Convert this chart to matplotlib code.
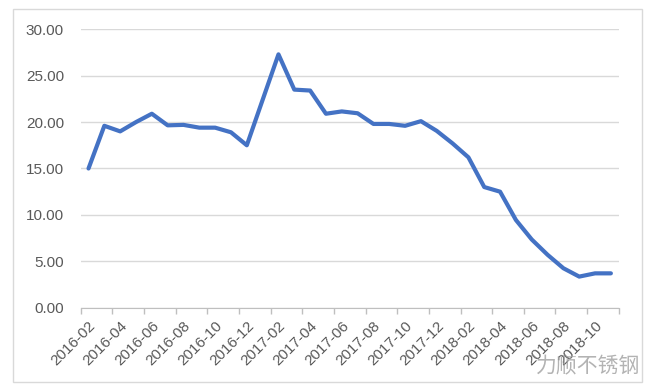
import matplotlib.pyplot as plt
from matplotlib.patches import Rectangle
import numpy as np

# monthly values, 2016-02 .. 2018-11
months = ['2016-02', '2016-03', '2016-04', '2016-05', '2016-06', '2016-07',
          '2016-08', '2016-09', '2016-10', '2016-11', '2016-12', '2017-01',
          '2017-02', '2017-03', '2017-04', '2017-05', '2017-06', '2017-07',
          '2017-08', '2017-09', '2017-10', '2017-11', '2017-12', '2018-01',
          '2018-02', '2018-03', '2018-04', '2018-05', '2018-06', '2018-07',
          '2018-08', '2018-09', '2018-10', '2018-11']
values = [15.0, 19.6, 19.0, 20.0, 20.9, 19.65, 19.7, 19.4, 19.4, 18.9, 17.5, 22.4,
          27.3, 23.5, 23.4, 20.9, 21.15, 20.95, 19.8, 19.8, 19.6, 20.1, 19.05, 17.7,
          16.2, 13.0, 12.5, 9.45, 7.35, 5.7, 4.25, 3.35, 3.7, 3.7]
yticks = [0, 5, 10, 15, 20, 25, 30]

plt.rcParams['font.family'] = ['Liberation Sans', 'DejaVu Sans']
grey = '#595959'
fig = plt.figure(figsize=(6.5, 3.88), dpi=100)
ax = fig.add_axes([0.124, 0.207, 0.828, 0.7175])

x = np.arange(len(months))
ax.plot(x, values, color='#4472C4', linewidth=3.0, solid_capstyle='round',
        solid_joinstyle='round', zorder=3)

ax.set_ylim(0, 30)
ax.set_xlim(-0.5, len(months) - 0.5)
ax.set_yticks(yticks)
ax.set_yticklabels(['%.2f' % v for v in yticks], fontsize=11, color=grey)
ax.tick_params(axis='y', length=0, pad=12)
ax.yaxis.grid(True, color='#d9d9d9', linewidth=1)
ax.set_axisbelow(True)

# labels on every other month, tick marks between categories
ax.set_xticks(x[::2])
ax.set_xticklabels(months[::2], rotation=45, ha='right', rotation_mode='anchor',
                   fontsize=11, color=grey)
ax.set_xticks(np.arange(-0.5, len(months), 2), minor=True)
ax.tick_params(axis='x', which='major', length=0, pad=8)
ax.tick_params(axis='x', which='minor', length=4, color='#bfbfbf', width=1)

for s in ['top', 'right', 'left']:
    ax.spines[s].set_visible(False)
ax.spines['bottom'].set_color('#bfbfbf')

# outer chart border
fig.patches.append(Rectangle((13 / 650, 1 - 382 / 388), 629 / 650, 373 / 388,
                             transform=fig.transFigure, fill=False,
                             edgecolor='#d9d9d9', linewidth=1))

fig.text(0.905, 0.055, '力顺不锈钢', fontsize=15, color='#a0a0a0', alpha=0.8,
         ha='center', va='center', family=['Noto Sans CJK SC', 'DejaVu Sans'])

fig.savefig('out.png', dpi=100)
